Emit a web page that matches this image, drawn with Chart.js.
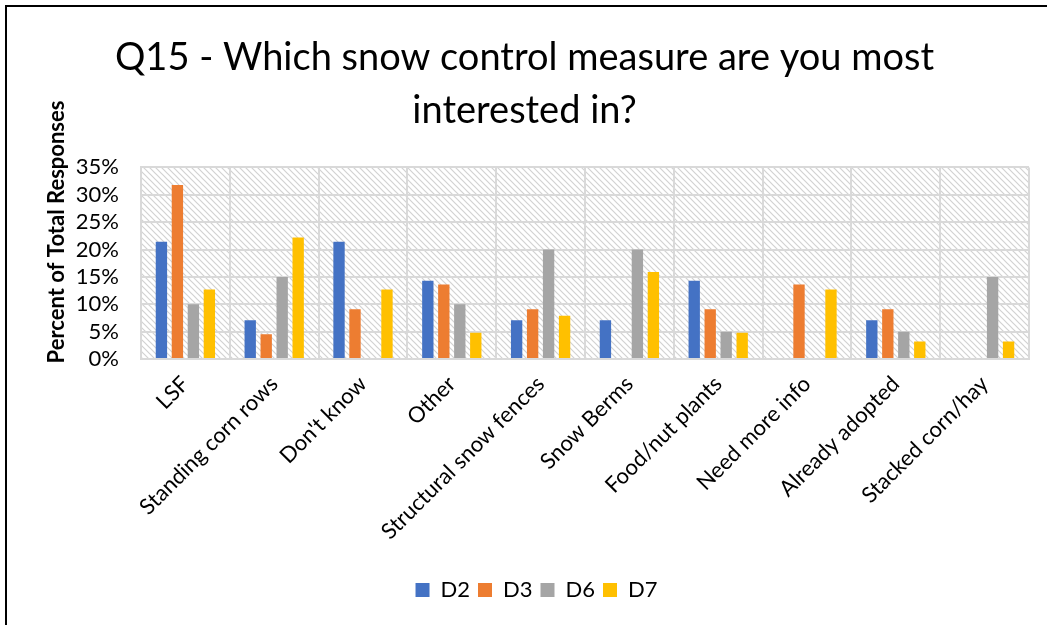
<!DOCTYPE html>
<html>
<head>
<meta charset="utf-8">
<script src="https://cdn.jsdelivr.net/npm/chart.js@4/dist/chart.umd.min.js"></script>
<style>
  html, body { margin: 0; padding: 0; background: #fff; }
  #wrap { width: 1047px; height: 625px; position: relative; }
</style>
</head>
<body>
<div id="wrap"><canvas id="snowChart"></canvas></div>
<script>
// categories and series (percent of total responses)
const categories = ['LSF', 'Standing corn rows', "Don't know", 'Other', 'Structural snow fences',
    'Snow Berms', 'Food/nut plants', 'Need more info', 'Already adopted', 'Stacked corn/hay'];
const d2 = [21.4, 7.1, 21.4, 14.3, 7.1, 7.1, 14.3, 0, 7.1, 0];
const d3 = [31.8, 4.5, 9.1, 13.6, 9.1, 0, 9.1, 13.6, 9.1, 0];
const d6 = [10, 15, 0, 10, 20, 20, 5, 0, 5, 15];
const d7 = [12.7, 22.2, 12.7, 4.8, 7.9, 15.9, 4.8, 12.7, 3.2, 3.2];
const yTicks = [0, 5, 10, 15, 20, 25, 30, 35];
const yTitle = 'Percent of Total Responses';

const FONT = 'Lato, "Open Sans", sans-serif';

// hatched fill for the plot area
function makeHatch() {
    const c = document.createElement('canvas');
    c.width = 6; c.height = 6;
    const g = c.getContext('2d');
    g.fillStyle = '#ffffff';
    g.fillRect(0, 0, 6, 6);
    g.strokeStyle = '#d2d2d2';
    g.lineWidth = 1.2;
    g.beginPath();
    g.moveTo(-1, -1); g.lineTo(7, 7);
    g.moveTo(-1, 5); g.lineTo(1, 7);
    g.moveTo(5, -1); g.lineTo(7, 1);
    g.stroke();
    return c;
}

const hatchPlugin = {
    id: 'hatch',
    afterLayout(chart) {
        // legend sits a little right of centre in the original
        if (chart.legend) {
            chart.legend.left += 12;
            chart.legend.right += 12;
        }
    },
    beforeDraw(chart) {
        const ctx = chart.ctx;
        const a = chart.chartArea;
        ctx.save();
        ctx.fillStyle = ctx.createPattern(makeHatch(), 'repeat');
        ctx.fillRect(a.left, a.top, a.right - a.left, a.bottom - a.top);
        ctx.restore();
    },
    afterDraw(chart) {
        const ctx = chart.ctx;
        ctx.save();
        // y axis title, placed a bit above the plot centre like the original
        ctx.translate(57, 232);
        ctx.rotate(-Math.PI / 2);
        ctx.font = 'bold 22px ' + FONT;
        ctx.fillStyle = '#000';
        ctx.textAlign = 'center';
        ctx.textBaseline = 'middle';
        ctx.fillText(yTitle, 0, 0);
        ctx.restore();

        // outer frame (left and top edges visible in the reference)
        ctx.save();
        ctx.strokeStyle = '#000';
        ctx.lineWidth = 2;
        ctx.beginPath();
        ctx.moveTo(6, 625);
        ctx.lineTo(6, 6);
        ctx.lineTo(1047, 6);
        ctx.stroke();
        ctx.restore();
    }
};

const ctx = document.getElementById('snowChart');
new Chart(ctx.getContext('2d'), {
    type: 'bar',
    data: {
        labels: categories,
        datasets: [
            { label: 'D2', data: d2, backgroundColor: '#4472C4' },
            { label: 'D3', data: d3, backgroundColor: '#ED7D31' },
            { label: 'D6', data: d6, backgroundColor: '#A5A5A5' },
            { label: 'D7', data: d7, backgroundColor: '#FFC000' }
        ]
    },
    plugins: [hatchPlugin],
    options: {
        responsive: true,
        maintainAspectRatio: false,
        animation: false,
        datasets: {
            bar: { categoryPercentage: 0.72, barPercentage: 0.71 }
        },
        layout: {
            padding: { left: 20, right: 18, top: 20, bottom: 14 }
        },
        plugins: {
            title: {
                display: true,
                text: ['Q15 - Which snow control measure are you most', 'interested in?'],
                color: '#000',
                font: { family: FONT, size: 38, weight: 'normal', lineHeight: 1.4 },
                padding: { top: 11, bottom: 30 }
            },
            legend: {
                position: 'bottom',
                labels: {
                    color: '#000',
                    boxWidth: 14,
                    boxHeight: 14,
                    padding: 8,
                    font: { family: FONT, size: 22 }
                }
            },
            tooltip: { enabled: false }
        },
        scales: {
            x: {
                grid: { offset: true, color: '#d9d9d9', lineWidth: 2, drawTicks: false },
                border: { color: '#d9d9d9', width: 2 },
                ticks: {
                    color: '#000',
                    maxRotation: 45,
                    minRotation: 45,
                    autoSkip: false,
                    padding: 12,
                    font: { family: FONT, size: 22 }
                },
                afterFit(scale) { scale.height = 212; }
            },
            y: {
                min: 0,
                max: 35,
                afterBuildTicks(scale) {
                    scale.ticks = yTicks.map(v => ({ value: v }));
                },
                grid: { color: '#d9d9d9', lineWidth: 2, drawTicks: false },
                border: { color: '#d9d9d9', width: 2 },
                ticks: {
                    color: '#000',
                    autoSkip: false,
                    padding: 22,
                    font: { family: FONT, size: 22 },
                    callback: function(value) {
                        return value + '%';
                    }
                },
                afterFit(scale) { scale.width = 121; }
            }
        }
    }
});
</script>
</body>
</html>
